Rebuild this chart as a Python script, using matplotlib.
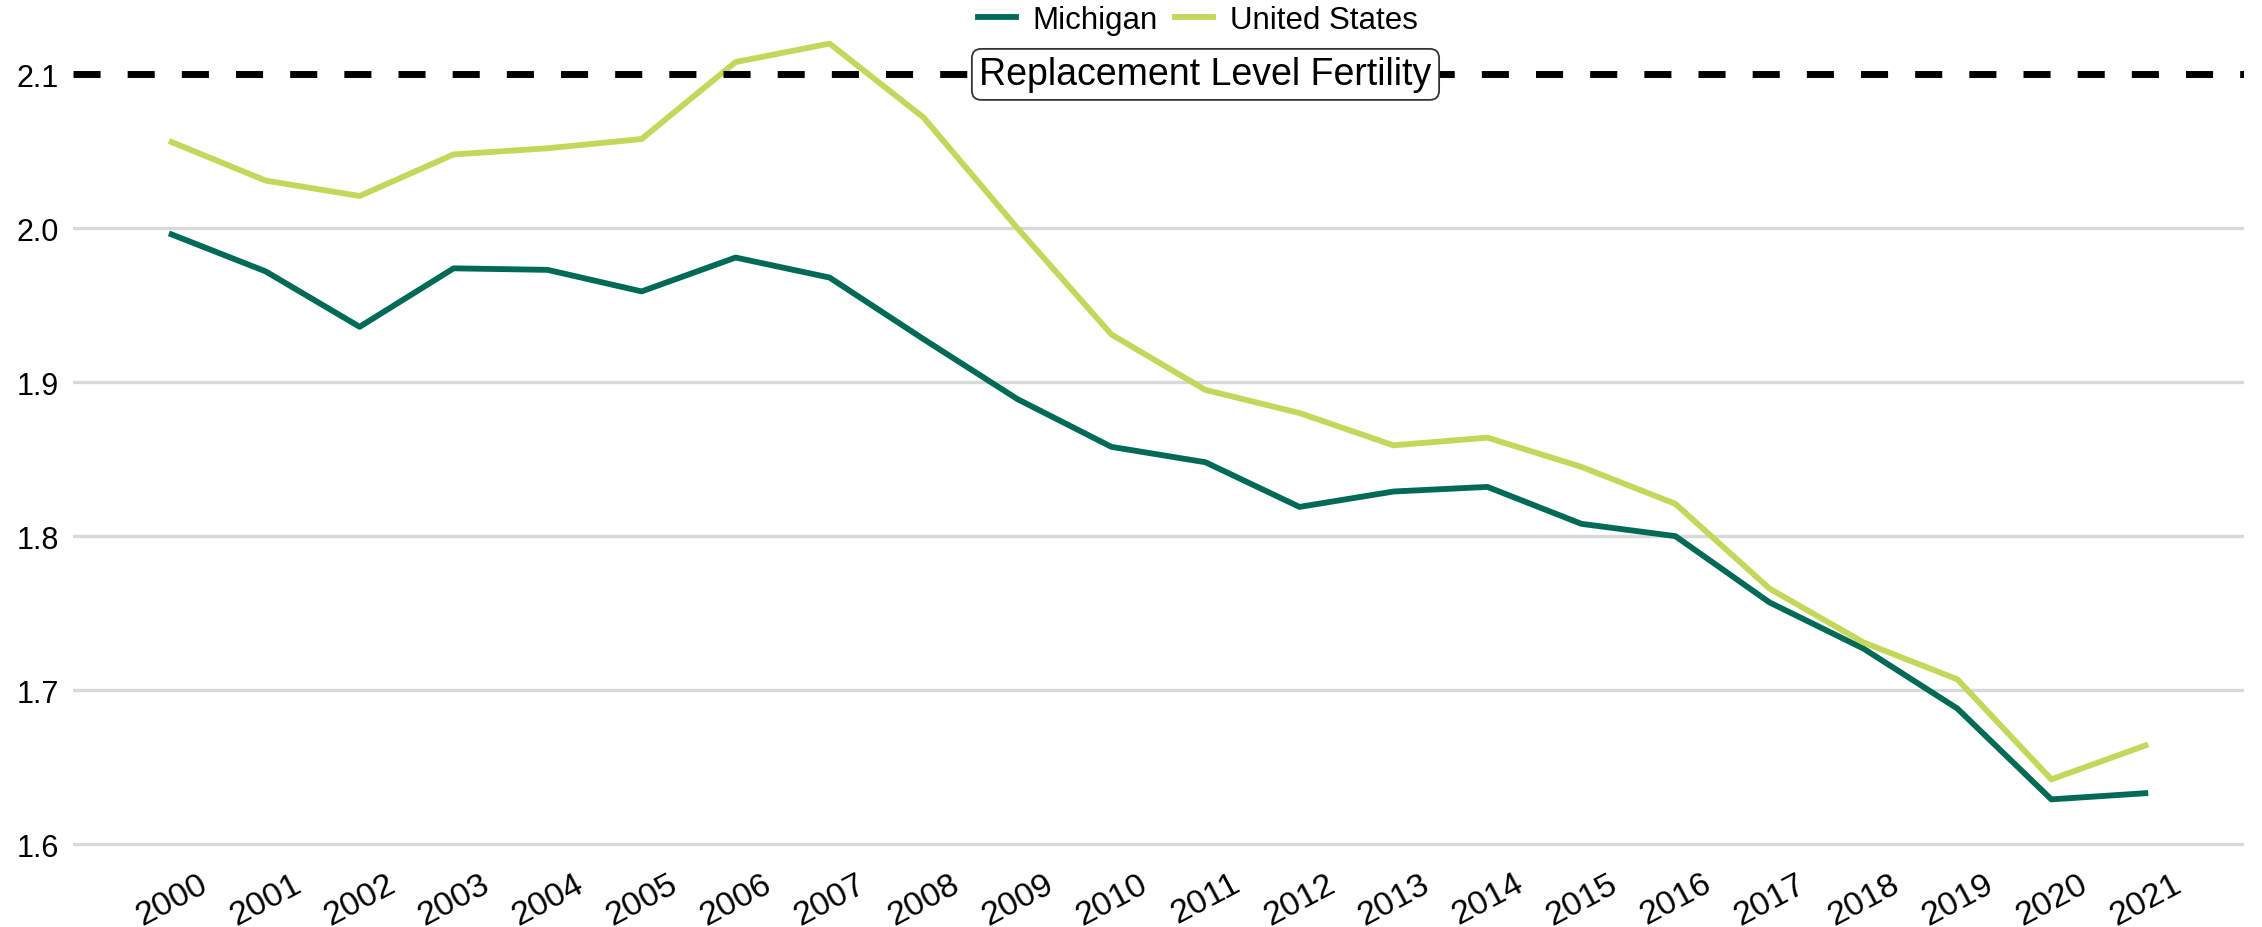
import matplotlib.pyplot as plt

plt.rcParams['font.family'] = ['Liberation Sans', 'DejaVu Sans']

# data
years = list(range(2000, 2022))
michigan = [1.996, 1.972, 1.936, 1.974, 1.973, 1.959, 1.981, 1.968, 1.928, 1.889,
            1.858, 1.848, 1.819, 1.829, 1.832, 1.808, 1.800, 1.757, 1.727, 1.688,
            1.629, 1.633]
usa = [2.056, 2.031, 2.021, 2.048, 2.052, 2.058, 2.108, 2.120, 2.072, 2.000,
       1.931, 1.895, 1.880, 1.859, 1.864, 1.845, 1.821, 1.766, 1.731, 1.707,
       1.642, 1.664]
replacement = 2.1
label_year = 2011
y_ticks = [1.6, 1.7, 1.8, 1.9, 2.0, 2.1]

W, H = 2262, 928
fig = plt.figure(figsize=(W / 100, H / 100), dpi=100)
# axes placed in pixels: left 73, right 2244, ylim 1.59 at 860.4, 2.13 at 29.2
ax = fig.add_axes([73 / W, (H - 860.4) / H, (2244 - 73) / W, (860.4 - 29.2) / H])

for yt in y_ticks[:-1]:
    ax.axhline(yt, color='#d9d9d9', lw=2.4, zorder=0)

ax.plot(years, michigan, color='#006a57', lw=4.2, label='Michigan', zorder=3)
ax.plot(years, usa, color='#c3d75b', lw=4.2, label='United States', zorder=3)

ax.axhline(replacement, color='black', lw=5, dashes=(3.9, 3.9), zorder=4)

ax.text(label_year, replacement, 'Replacement Level Fertility', ha='center', va='center',
        fontsize=27, zorder=5,
        bbox=dict(boxstyle='round,pad=0.2,rounding_size=0.25', fc='white', ec='#333333', lw=1.3))

ax.set_xlim(1998.95, 2022.05)
ax.set_ylim(1.59, 2.13)
ax.set_yticks(y_ticks)
ax.set_yticklabels([f'{v:.1f}' for v in y_ticks])
ax.set_xticks(years)
ax.set_xticklabels([str(y) for y in years], rotation=28, ha='center')
ax.tick_params(axis='y', length=0, pad=10, labelsize=22)
ax.tick_params(axis='x', length=0, pad=6, labelsize=24.5)
for s in ax.spines.values():
    s.set_visible(False)

fig.legend(loc='center', bbox_to_anchor=(1198 / W, 1 - 21 / H), ncol=2, frameon=False,
           fontsize=22.5, handlelength=1.2, handletextpad=0.55, columnspacing=0.55,
           borderpad=0.1)

fig.savefig('out.png', dpi=100, facecolor='white')
